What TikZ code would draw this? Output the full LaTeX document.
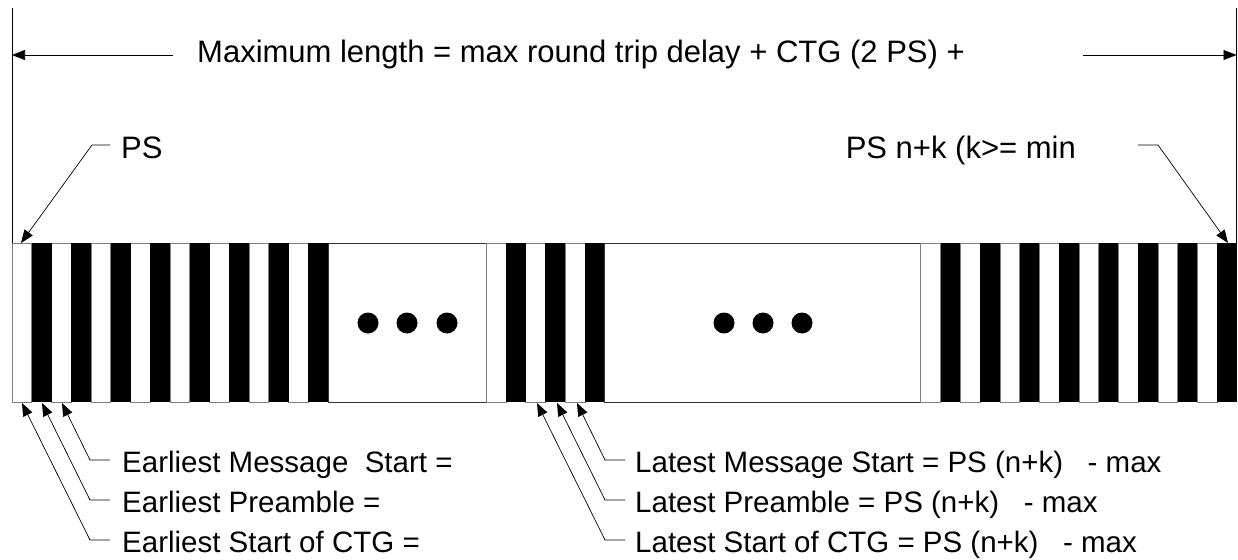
\documentclass[tikz,border=0pt]{standalone}
\usepackage{fontspec}
\setmainfont{Liberation Sans}
\usetikzlibrary{arrows.meta}
\begin{document}
\begin{tikzpicture}[x=1pt,y=-1pt,
 lbl/.style={inner sep=0pt, font=\fontsize{31}{37}\selectfont},
 blbl/.style={inner sep=0pt, font=\fontsize{29.5}{35}\selectfont},
 conn/.style={line width=0.7pt, -{Triangle[length=13pt,width=10pt]}},
 wst/.style={fill=white, draw=gray, line width=0.8pt},
 boxst/.style={fill=white, draw=black!80, line width=0.8pt},
 dotst/.style={circle, fill=black, minimum size=21pt, inner sep=0pt},
 guide/.style={line width=0.8pt}
]
\useasboundingbox (0,0) rectangle (1238,559);
\def\sw{19.758}
% bar: left section
\foreach \i in {0,2,...,14} \draw[wst] ({12+\i*\sw},243) rectangle ++(\sw,159);
\foreach \i in {1,3,...,15} \fill[black] ({12+\i*\sw},243) rectangle ++(\sw,159);
% first gap box
\draw[boxst] ({12+16*\sw},243) rectangle ({12+24*\sw},402);
% middle section
\foreach \i in {24,26,28} \draw[wst] ({12+\i*\sw},243) rectangle ++(\sw,159);
\foreach \i in {25,27,29} \fill[black] ({12+\i*\sw},243) rectangle ++(\sw,159);
% second gap box
\draw[boxst] ({12+30*\sw},243) rectangle ({12+46*\sw},402);
% right section
\foreach \i in {46,48,...,60} \draw[wst] ({12+\i*\sw},243) rectangle ++(\sw,159);
\foreach \i in {47,49,...,61} \fill[black] ({12+\i*\sw},243) rectangle ++(\sw,159);
% dots
\node[dotst] (d1) at (368,323) {};
\node[dotst] (d2) at (407,323) {};
\node[dotst] (d3) at (447,323) {};
\node[dotst] (d4) at (724,323) {};
\node[dotst] (d5) at (763,323) {};
\node[dotst] (d6) at (802,323) {};
% vertical boundary lines
\coordinate (vlt) at (12,8);
\coordinate (vlb) at (12,243);
\coordinate (vrt) at (1236.5,8);
\coordinate (vrb) at (1236.5,243);
\draw[guide] (vlt) -- (vlb);
\draw[guide] (vrt) -- (vrb);
% title and arrows
\node[lbl, anchor=base west] (title) at (197,63) {Maximum length = max round trip delay + CTG (2 PS) +};
\coordinate (al1) at (173,55);
\coordinate (al2) at (12,55);
\coordinate (ar1) at (1083,55);
\coordinate (ar2) at (1236.5,55);
\draw[conn] (al1) -- (al2);
\draw[conn] (ar1) -- (ar2);
% PS labels
\node[lbl, anchor=base west] (ps) at (121,158) {PS};
\coordinate (psA) at (110,145);
\coordinate (psB) at (92,145);
\coordinate (psT) at (21,243);
\draw[conn] (psA) -- (psB) -- (psT);
\node[lbl, anchor=base east] (psn) at (1076,158) {PS n+k (k>= min};
\coordinate (pnA) at (1138,145);
\coordinate (pnB) at (1158,145);
\coordinate (pnT) at (1228,243);
\draw[conn] (pnA) -- (pnB) -- (pnT);
% bottom left labels
\node[blbl, anchor=base west] (e1) at (122,472) {Earliest Message\ \ Start =};
\node[blbl, anchor=base west] (e2) at (122,512) {Earliest Preamble =};
\node[blbl, anchor=base west] (e3) at (122,552) {Earliest Start of CTG =};
\draw[conn] (110,460) -- (90,460) -- (62,403);
\draw[conn] (110,500) -- (90,500) -- (42,403);
\draw[conn] (110,540) -- (90,540) -- (22,403);
% bottom right labels
\node[blbl, anchor=base west] (l1) at (635,472) {Latest Message Start = PS (n+k)\ \ \ - max};
\node[blbl, anchor=base west] (l2) at (635,512) {Latest Preamble = PS (n+k)\ \ \ - max};
\node[blbl, anchor=base west] (l3) at (635,552) {Latest Start of CTG = PS (n+k)\ \ \ - max};
\draw[conn] (625,460) -- (605,460) -- (577,403);
\draw[conn] (625,500) -- (605,500) -- (557,403);
\draw[conn] (625,540) -- (605,540) -- (537,403);
\end{tikzpicture}
\end{document}
